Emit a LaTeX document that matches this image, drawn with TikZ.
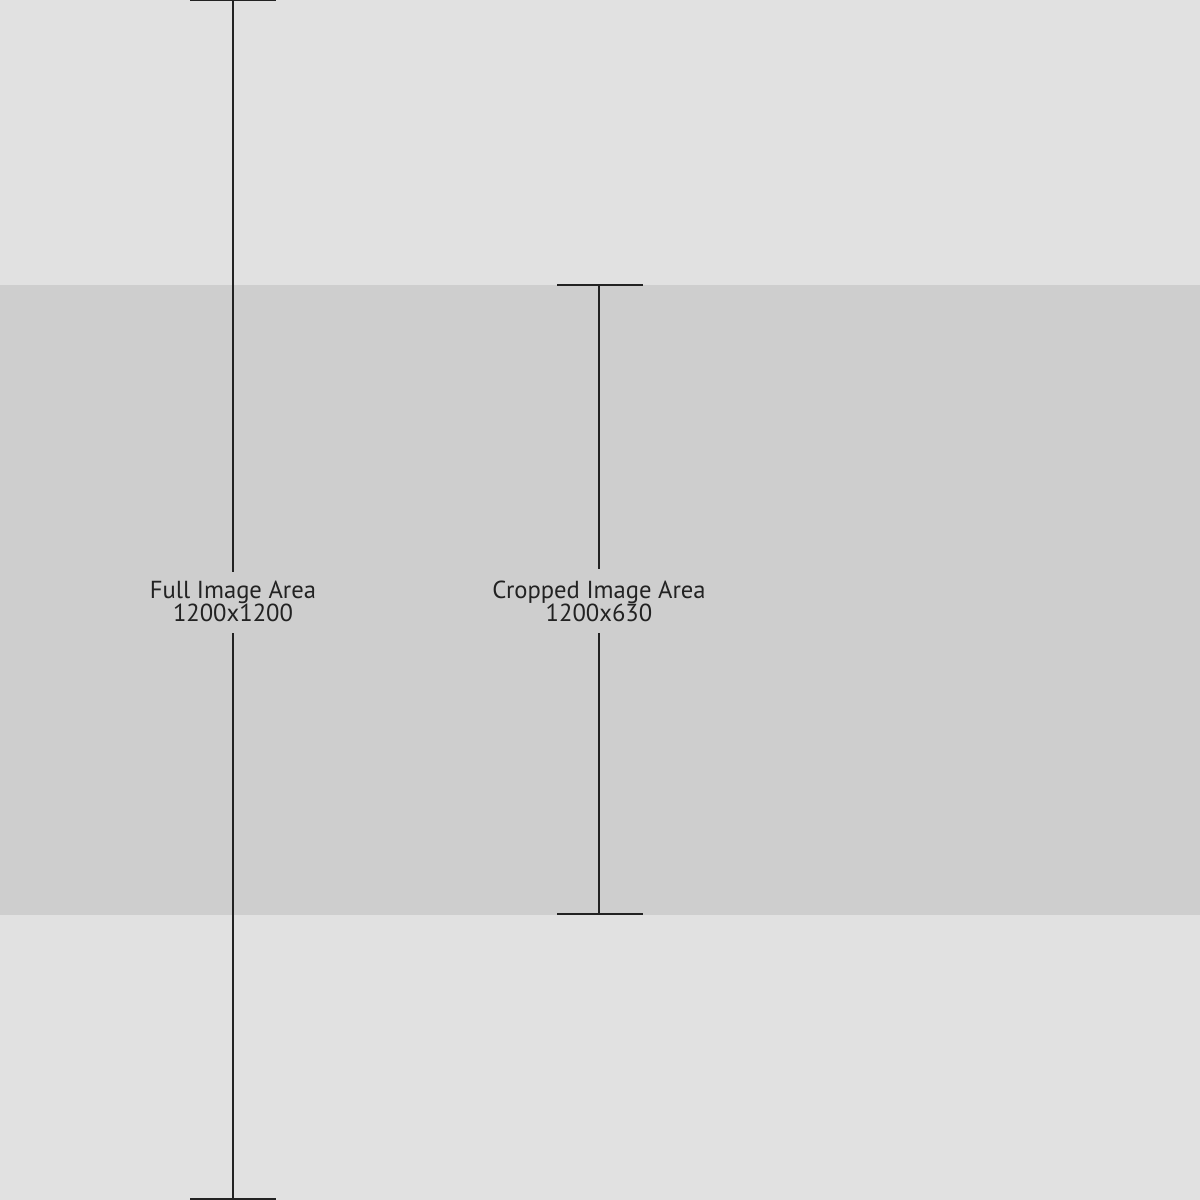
\documentclass[tikz,border=0pt]{standalone}
\usepackage{fontspec}
\setmainfont{PT Sans}
\definecolor{bglight}{HTML}{E1E1E1}
\definecolor{bgband}{HTML}{CECECE}
\definecolor{ink}{HTML}{222222}
\begin{document}
\begin{tikzpicture}[x=0.01cm,y=-0.01cm,
  measure/.style={draw=ink,line width=0.6pt},
  capline/.style={draw=ink,line width=0.3pt},
  label/.style={text=ink,align=center,inner sep=0pt,font=\fontsize{7}{6.5}\selectfont}]
\useasboundingbox (0,0) rectangle (1200,1200);
\fill[bglight] (0,0) rectangle (1200,1200);
\fill[bgband] (0,285) rectangle (1200,915);
% full
\coordinate (ft) at (233,0);
\coordinate (fb) at (233,1200);
\coordinate (fgt) at (233,572);
\coordinate (fgb) at (233,633);
\coordinate (ftl) at (190,0);
\coordinate (ftr) at (276,0);
\coordinate (fbl) at (190,1199);
\coordinate (fbr) at (276,1199);
\draw[measure] (ft) -- (fgt);
\draw[measure] (fgb) -- (fb);
\draw[capline] (ftl) -- (ftr);
\draw[capline] (fbl) -- (fbr);
\node[label] (fl) at (233,601) {Full Image Area\\1200x1200};
% cropped
\coordinate (ct) at (599,285);
\coordinate (cb) at (599,914);
\coordinate (cgt) at (599,569);
\coordinate (cgb) at (599,633);
\coordinate (ctl) at (557,285);
\coordinate (ctr) at (643,285);
\coordinate (cbl) at (557,914);
\coordinate (cbr) at (643,914);
\draw[measure] (ct) -- (cgt);
\draw[measure] (cgb) -- (cb);
\draw[capline] (ctl) -- (ctr);
\draw[capline] (cbl) -- (cbr);
\node[label] (cl) at (599,601) {Cropped Image Area\\1200x630};
\end{tikzpicture}
\end{document}
